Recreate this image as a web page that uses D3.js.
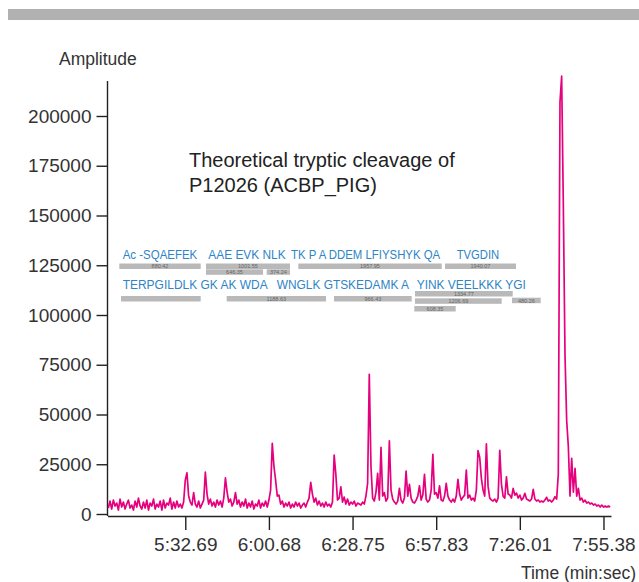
<!DOCTYPE html>
<html>
<head>
<meta charset="utf-8">
<script src="https://cdnjs.cloudflare.com/ajax/libs/d3/7.8.5/d3.min.js"></script>
<style>
  body { margin: 0; background: #fff; }
  svg text { font-family: "Liberation Sans", Arial, sans-serif; }
</style>
</head>
<body>
<div id="chart"></div>
<script>

// scan number of the first amplitude value, one value per scan
var firstScan = 4;

// ion current amplitude
var amplitude = [
  3000, 6500, 2500, 7000, 4000, 5500, 2000, 7500, 3500, 6000,
  2500, 5000, 7000, 3000, 4500, 2000, 6500, 3500, 8000, 4000,
  2500, 6000, 3000, 7000, 2000, 5500, 4000, 7500, 2500, 5000,
  3500, 6500, 2000, 7000, 3000, 5500, 4500, 8000, 2500, 6000,
  3000, 6500, 3500, 5000, 3000, 6000,
  17000, 20700, 9000, 6000, 4500, 10700, 5000, 3500, 6500, 3000,
  5000, 7000, 21000, 10000, 5000, 7500, 4000, 6000, 3500, 7000,
  4500, 6500, 3500, 8000, 18200, 11000, 6000, 7500, 4000, 6000,
  10700, 5000, 7000, 3500, 6000, 4000, 7500, 3000, 5500, 3500,
  6500, 2500, 5000, 4000, 7000, 3000, 5500, 4000, 6500, 3500,
  7000, 12000, 35500, 24000, 17000, 9000, 9500, 5000, 6500, 3500,
  5500, 4000, 6000, 3000, 5000, 3500, 6000, 4000, 5500, 3000,
  4500, 5500, 3500, 6000, 8000, 15900, 10000, 6000, 8000, 4500,
  6500, 4000, 5500, 3500, 6000, 4000, 5000, 3500, 6000, 29600,
  20000, 7000, 8000, 13700, 6000, 8500, 5000, 7500, 4500, 6000,
  5000, 6500, 4000, 5500, 5000, 4500, 6000, 5000, 9000, 15400,
  70200, 24000, 8000, 6500, 11000, 20400, 7000, 33500, 9000, 10700,
  6500, 8000, 36800, 12000, 7500, 6000, 5000, 6500, 12900, 7000,
  5500, 8000, 21600, 9000, 14900, 8000, 6000, 5500, 7000, 9000,
  14200, 7000, 9500, 19900, 7500, 6000, 7000, 12000, 30000, 10000,
  10700, 8000, 14200, 7000, 6500, 9000, 15400, 9000, 7000, 6000,
  7500, 6000, 9000, 17400, 10000, 7000, 8500, 9500, 22100, 8000,
  9500, 7000, 8000, 6500, 12000, 31800, 28500, 18000, 12000, 9000,
  35200, 14000, 8000, 7000, 6500, 7500, 6000, 8000, 32000, 15000,
  9000, 8000, 18700, 10000, 9500, 8000, 12900, 9500, 10500, 8000,
  9500, 7000, 8000, 10400, 7500, 7000, 6500, 7500, 12400, 7500,
  6500, 7000, 6000, 6500, 6000, 7000, 8400, 6500, 7000, 6000,
  7000, 8700, 7500, 20000, 207000, 220000, 155000, 80000, 47000, 33800,
  9000, 28000, 11000, 23000, 9000, 12900, 7000, 8000, 6000, 7000,
  5500, 6000, 5000, 5500, 4500, 5000, 4000, 4500, 3500, 4500,
  3500, 4000, 3500, 4000, 3500
];

// x axis: scans at the ticks and their retention times
var tickScans = [50, 100, 150, 200, 250, 300];
var timeLabels = ["5:32.69", "6:00.68", "6:28.75", "6:57.83", "7:26.01", "7:55.38"];

// y axis ticks
var amplitudeTicks = [0, 25000, 50000, 75000, 100000, 125000, 150000, 175000, 200000];

// tryptic peptides of the sequence, two text rows
var peptideRow1 = ["Ac -SQAEFEK", "AAE EVK NLK", "TK P A DDEM LFIYSHYK QA", "TVGDIN"];
var peptideRow2 = ["TERPGILDLK GK AK WDA", "WNGLK GTSKEDAMK A", "YINK VEELKKK YGI"];

// theoretical peptide masses for the grey bands
var peptideMasses = ["880.42", "1001.55", "1957.95", "1940.07", "646.35", "374.24",
                     "", "1188.63", "966.43", "480.26", "1334.77", "1206.69", "608.35"];

var titleLines = ["Theoretical tryptic cleavage of", "P12026 (ACBP_PIG)"];

// page layout
var width = 639,
    height = 582,
    lineColor = "#e6007e",
    peptideColor = "#2d84c6";

// where the text rows and the mass bands sit (pixels)
var row1Layout = [[122.7, 74.6], [208.3, 77.4], [291, 149.3], [456.7, 42.6]];
var row2Layout = [[122.7, 145], [276.7, 132.3], [416.7, 109.3]];
var bandLayout = [
  [119.3, 200.7, 263.5], [206, 290, 263.5], [298.3, 441.7, 263.5], [445, 516, 263.5],
  [206, 263, 269.3], [266.7, 290, 269.3],
  [121, 200.7, 296], [226.7, 326, 296], [334, 411.7, 296], [512, 540.7, 297.7],
  [415, 512.7, 291], [415, 501.7, 298.3], [414.3, 455.7, 306]
];

var svg = d3.select("#chart")
            .append("svg")
            .attr("width", width)
            .attr("height", height);

// grey rule across the top
svg.append("rect")
   .attr("x", 8)
   .attr("y", 9)
   .attr("width", width - 8)
   .attr("height", 11)
   .attr("fill", "#b1b1b1");

// scales
var x = d3.scaleLinear()
          .domain([3.5, 304.5])
          .range([107.5, 611]);

var y = d3.scaleLinear()
          .domain([0, 200000])
          .range([514, 116]);

var axisY = 516;

// y axis
var yAxis = svg.append("g")
               .attr("transform", "translate(107.5,0)")
               .call(d3.axisLeft(y)
                       .tickValues(amplitudeTicks)
                       .tickFormat(d3.format("d"))
                       .tickSize(11)
                       .tickPadding(5));
yAxis.select(".domain").remove();

svg.append("line")
   .attr("x1", 107.5)
   .attr("x2", 107.5)
   .attr("y1", 81)
   .attr("y2", axisY)
   .attr("stroke", "#222")
   .attr("stroke-width", 1.4);

// x axis
var xAxis = svg.append("g")
               .attr("transform", "translate(0," + axisY + ")")
               .call(d3.axisBottom(x)
                       .tickValues(tickScans)
                       .tickFormat(function(d, i) { return timeLabels[i]; })
                       .tickSize(14)
                       .tickSizeOuter(0)
                       .tickPadding(8));

svg.selectAll(".tick line, .domain")
   .attr("stroke", "#222")
   .attr("stroke-width", 1.4);

svg.selectAll(".tick text")
   .attr("fill", "#333")
   .style("font-size", "19px");

// axis titles
svg.append("text")
   .attr("x", 59)
   .attr("y", 65)
   .attr("fill", "#333")
   .style("font-size", "17.5px")
   .text("Amplitude");

svg.append("text")
   .attr("x", 636)
   .attr("y", 579)
   .attr("text-anchor", "end")
   .attr("fill", "#333")
   .style("font-size", "17.5px")
   .text("Time (min:sec)");

// chromatogram trace
var line = d3.line()
             .x(function(d, i) { return x(firstScan + i); })
             .y(function(d) { return y(d); });

svg.append("path")
   .datum(amplitude)
   .attr("d", line)
   .attr("fill", "none")
   .attr("stroke", lineColor)
   .attr("stroke-width", 1.7)
   .attr("stroke-linejoin", "round");

// title
svg.selectAll(".title")
   .data(titleLines)
   .enter()
   .append("text")
   .attr("class", "title")
   .attr("x", 189)
   .attr("y", function(d, i) { return 167 + i * 25; })
   .attr("fill", "#222")
   .style("font-size", "20px")
   .text(function(d) { return d; });

// mass bands with their labels
var bands = svg.selectAll(".band")
               .data(peptideMasses)
               .enter()
               .append("g")
               .attr("class", "band");

bands.append("rect")
     .attr("x", function(d, i) { return bandLayout[i][0]; })
     .attr("y", function(d, i) { return bandLayout[i][2]; })
     .attr("width", function(d, i) { return bandLayout[i][1] - bandLayout[i][0]; })
     .attr("height", 5.5)
     .attr("fill", "#b9b9b9");

bands.append("text")
     .attr("x", function(d, i) { return (bandLayout[i][0] + bandLayout[i][1]) / 2; })
     .attr("y", function(d, i) { return bandLayout[i][2] + 4.8; })
     .attr("text-anchor", "middle")
     .attr("fill", "#666")
     .style("font-size", "5.5px")
     .text(function(d) { return d; });

// peptide sequence rows, squeezed sideways to the narrow type of the original
function drawRow(labels, layout, baseline) {
  svg.selectAll(null)
     .data(labels)
     .enter()
     .append("text")
     .attr("fill", peptideColor)
     .style("font-size", "13.5px")
     .text(function(d) { return d; })
     .attr("transform", function(d, i) {
       var natural = this.getComputedTextLength();
       var k = layout[i][1] / natural;
       return "translate(" + layout[i][0] + "," + baseline + ") scale(" + k + ",1)";
     });
}

drawRow(peptideRow1, row1Layout, 259);
drawRow(peptideRow2, row2Layout, 288.5);

</script>
</body>
</html>
